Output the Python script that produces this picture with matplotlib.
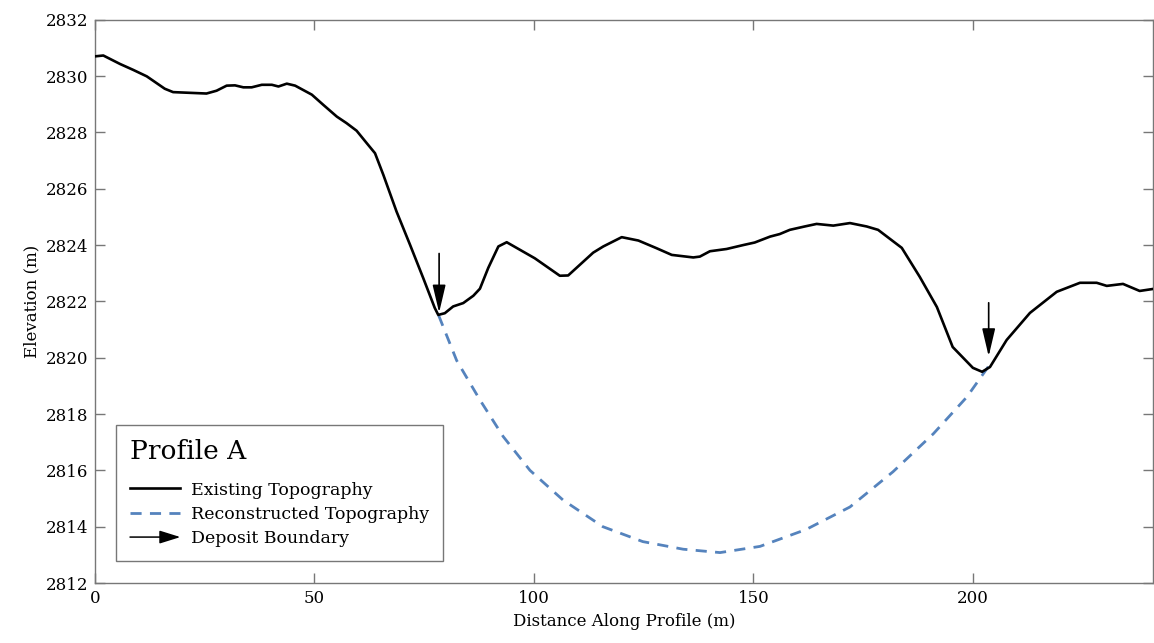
import matplotlib
matplotlib.use("Agg")
import matplotlib.pyplot as plt
from matplotlib.patches import FancyArrowPatch
from matplotlib.legend_handler import HandlerBase
from matplotlib.lines import Line2D

# Existing topography along the profile (m)
dist = [0, 1.9, 5.7, 8.7, 11.8, 15.9, 17.8, 25.4, 27.7, 30.0, 31.9, 33.8, 35.7, 38.0,
        40.3, 41.8, 43.7, 45.6, 49.4, 52.0, 55.1, 57.3, 59.6, 61.9, 63.8, 65.7, 68.7,
        71.8, 74.8, 77.4, 78.2, 79.7, 81.6, 83.9, 86.2, 87.7, 89.6, 91.9, 93.8, 100.2,
        105.9, 107.8, 113.5, 115.8, 120.0, 123.8, 127.9, 131.4, 136.3, 137.8, 140.1,
        143.9, 147.7, 150.3, 153.8, 156.0, 158.3, 161.7, 164.4, 168.2, 172.0, 175.8,
        178.4, 183.8, 187.9, 191.8, 195.4, 200.0, 202.1, 203.9, 207.7, 213.0, 219.1,
        224.4, 228.2, 230.5, 234.2, 238.0, 241.0]
elev = [2830.70, 2830.73, 2830.43, 2830.22, 2829.99, 2829.55, 2829.43, 2829.38, 2829.48,
        2829.66, 2829.67, 2829.60, 2829.60, 2829.69, 2829.69, 2829.63, 2829.73, 2829.66,
        2829.34, 2828.98, 2828.56, 2828.33, 2828.06, 2827.62, 2827.26, 2826.49, 2825.19,
        2824.00, 2822.82, 2821.77, 2821.52, 2821.58, 2821.82, 2821.94, 2822.20, 2822.45,
        2823.19, 2823.95, 2824.10, 2823.53, 2822.91, 2822.92, 2823.73, 2823.95, 2824.28,
        2824.16, 2823.89, 2823.65, 2823.56, 2823.59, 2823.78, 2823.86, 2824.00, 2824.09,
        2824.30, 2824.39, 2824.54, 2824.66, 2824.75, 2824.69, 2824.78, 2824.66, 2824.54,
        2823.90, 2822.87, 2821.80, 2820.38, 2819.64, 2819.50, 2819.67, 2820.63, 2821.59,
        2822.34, 2822.66, 2822.66, 2822.55, 2822.62, 2822.37, 2822.44]

# Reconstructed topography beneath the deposit
rec_dist = [78.3, 82.4, 87.7, 93.0, 99.1, 106.6, 115.7, 124.8, 134.0, 142.4, 151.5,
            162.0, 172.0, 181.8, 191.0, 198.6, 203.6]
rec_elev = [2821.50, 2819.90, 2818.50, 2817.20, 2816.00, 2814.95, 2814.00, 2813.47,
            2813.20, 2813.08, 2813.30, 2813.90, 2814.70, 2815.95, 2817.30, 2818.60, 2819.70]

# Deposit boundary arrows: x, arrow start, arrow tip
arrow_x = [78.4, 203.6]
arrow_top = [2823.7, 2821.95]
arrow_tip = [2821.6, 2820.05]

plt.rcParams['font.family'] = ['DejaVu Serif']
plt.rcParams['font.size'] = 12

fig = plt.figure(figsize=(11.54, 6.43), dpi=100)
ax = fig.add_axes([0.0823, 0.0933, 0.9167, 0.876])

ax.plot(dist, elev, color='black', lw=1.9, label='Existing Topography', zorder=3)
ax.plot(rec_dist, rec_elev, color='#5583bd', lw=2.0, dashes=(4, 3),
        label='Reconstructed Topography', zorder=2)

arrowstyle = '-|>,head_length=0.85,head_width=0.2'
for x, y0, y1 in zip(arrow_x, arrow_top, arrow_tip):
    ax.annotate('', xy=(x, y1), xytext=(x, y0),
                arrowprops=dict(arrowstyle=arrowstyle, color='black', lw=1.2,
                                mutation_scale=20, shrinkA=0, shrinkB=0), zorder=4)


class ArrowHandler(HandlerBase):
    def create_artists(self, legend, orig_handle, xdescent, ydescent, width, height,
                       fontsize, trans):
        y = height / 2 - ydescent
        a = FancyArrowPatch((-xdescent, y), (-xdescent + width, y),
                            arrowstyle='-|>,head_length=0.8,head_width=0.25',
                            mutation_scale=16, color='black', lw=1.1, shrinkA=0, shrinkB=0,
                            transform=trans)
        return [a]


arrow_handle = Line2D([], [], color='black')
handles, labels = ax.get_legend_handles_labels()
handles.append(arrow_handle)
labels.append('Deposit Boundary')
leg = ax.legend(handles, labels, loc='lower left', bbox_to_anchor=(0.02, 0.039),
                borderaxespad=0, title='Profile A', title_fontsize=19, fontsize=12.5,
                alignment='left', fancybox=False, edgecolor='#777777', framealpha=1,
                handlelength=2.9, handletextpad=0.6, labelspacing=0.42, borderpad=0.8,
                handler_map={arrow_handle: ArrowHandler()})
leg.get_frame().set_linewidth(1.0)
leg._legend_box.sep = 13  # extra gap below the title

ax.set_xlim(0, 241)
ax.set_ylim(2812, 2832)
ax.set_xticks([0, 50, 100, 150, 200])
ax.set_yticks(range(2812, 2833, 2))
ax.set_xlabel('Distance Along Profile (m)', labelpad=4)
ax.set_ylabel('Elevation (m)', labelpad=4)
for s in ax.spines.values():
    s.set_color('#777777')
    s.set_linewidth(1.0)
ax.tick_params(direction='in', length=7, width=1, color='#777777', top=True, right=True,
               labelsize=12, pad=5)

fig.savefig('out.png', dpi=100)
